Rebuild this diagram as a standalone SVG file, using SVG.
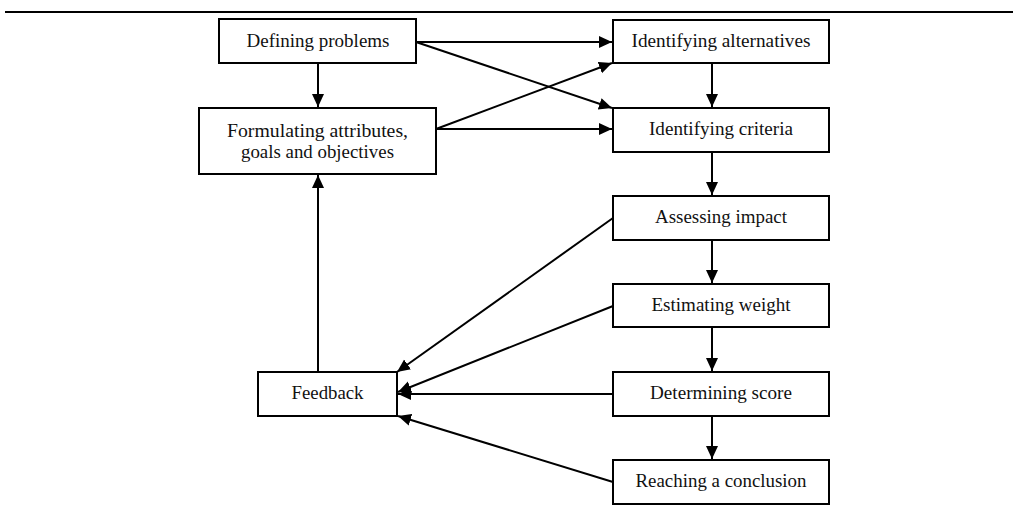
<svg xmlns="http://www.w3.org/2000/svg" width="1013" height="516" viewBox="0 0 1013 516">
<style>
.box{fill:#fff;stroke:#000;stroke-width:2}
.t{font-family:"Liberation Serif",serif;font-size:18.5px;fill:#111;text-anchor:middle}
.c{stroke:#000;stroke-width:2;fill:none;marker-end:url(#ah)}
</style>
<defs>
<marker id="ah" markerUnits="userSpaceOnUse" markerWidth="14" markerHeight="14" viewBox="0 0 14 14" refX="13" refY="7" orient="auto">
<path d="M0,1 L13,7 L0,13 Z" fill="#000"/>
</marker>
</defs>
<rect width="1013" height="516" fill="#fff"/>
<line x1="5" y1="12" x2="1013" y2="12" stroke="#000" stroke-width="2.2"/>
<g id="connectors">
<line class="c" x1="318" y1="63" x2="318" y2="107"/>
<line class="c" x1="416" y1="42" x2="612" y2="42"/>
<line class="c" x1="416" y1="42" x2="612" y2="108"/>
<line class="c" x1="436" y1="129" x2="612" y2="63"/>
<line class="c" x1="436" y1="129" x2="612" y2="129"/>
<line class="c" x1="712" y1="63" x2="712" y2="107"/>
<line class="c" x1="712" y1="152" x2="712" y2="195"/>
<line class="c" x1="712" y1="240" x2="712" y2="283"/>
<line class="c" x1="712" y1="327" x2="712" y2="371"/>
<line class="c" x1="712" y1="416" x2="712" y2="459"/>
<line class="c" x1="613" y1="218" x2="397" y2="372"/>
<line class="c" x1="613" y1="306" x2="398" y2="392"/>
<line class="c" x1="613" y1="394" x2="398" y2="394"/>
<line class="c" x1="613" y1="482" x2="398" y2="416"/>
<line class="c" x1="318" y1="372" x2="318" y2="175"/>
</g>
<g id="n-defining"><rect class="box" x="219" y="19" width="197" height="44"/><text class="t" x="318" y="47" textLength="143" lengthAdjust="spacingAndGlyphs">Defining problems</text></g>
<g id="n-formulating"><rect class="box" x="199" y="108" width="237" height="66"/><text class="t" x="317.5" y="137" textLength="181" lengthAdjust="spacingAndGlyphs">Formulating attributes,</text><text class="t" x="317.5" y="158" textLength="153" lengthAdjust="spacingAndGlyphs">goals and objectives</text></g>
<g id="n-alternatives"><rect class="box" x="613" y="20" width="216" height="43"/><text class="t" x="721" y="47" textLength="179" lengthAdjust="spacingAndGlyphs">Identifying alternatives</text></g>
<g id="n-criteria"><rect class="box" x="613" y="108" width="216" height="44"/><text class="t" x="721" y="135" textLength="144" lengthAdjust="spacingAndGlyphs">Identifying criteria</text></g>
<g id="n-impact"><rect class="box" x="613" y="196" width="216" height="44"/><text class="t" x="721" y="223" textLength="132" lengthAdjust="spacingAndGlyphs">Assessing impact</text></g>
<g id="n-weight"><rect class="box" x="613" y="284" width="216" height="43"/><text class="t" x="721" y="311" textLength="139" lengthAdjust="spacingAndGlyphs">Estimating weight</text></g>
<g id="n-score"><rect class="box" x="613" y="372" width="216" height="44"/><text class="t" x="721" y="399" textLength="142" lengthAdjust="spacingAndGlyphs">Determining score</text></g>
<g id="n-conclusion"><rect class="box" x="613" y="460" width="216" height="44"/><text class="t" x="721" y="487" textLength="171" lengthAdjust="spacingAndGlyphs">Reaching a conclusion</text></g>
<g id="n-feedback"><rect class="box" x="258" y="372" width="139" height="44"/><text class="t" x="327.5" y="399" textLength="72" lengthAdjust="spacingAndGlyphs">Feedback</text></g>
</svg>
